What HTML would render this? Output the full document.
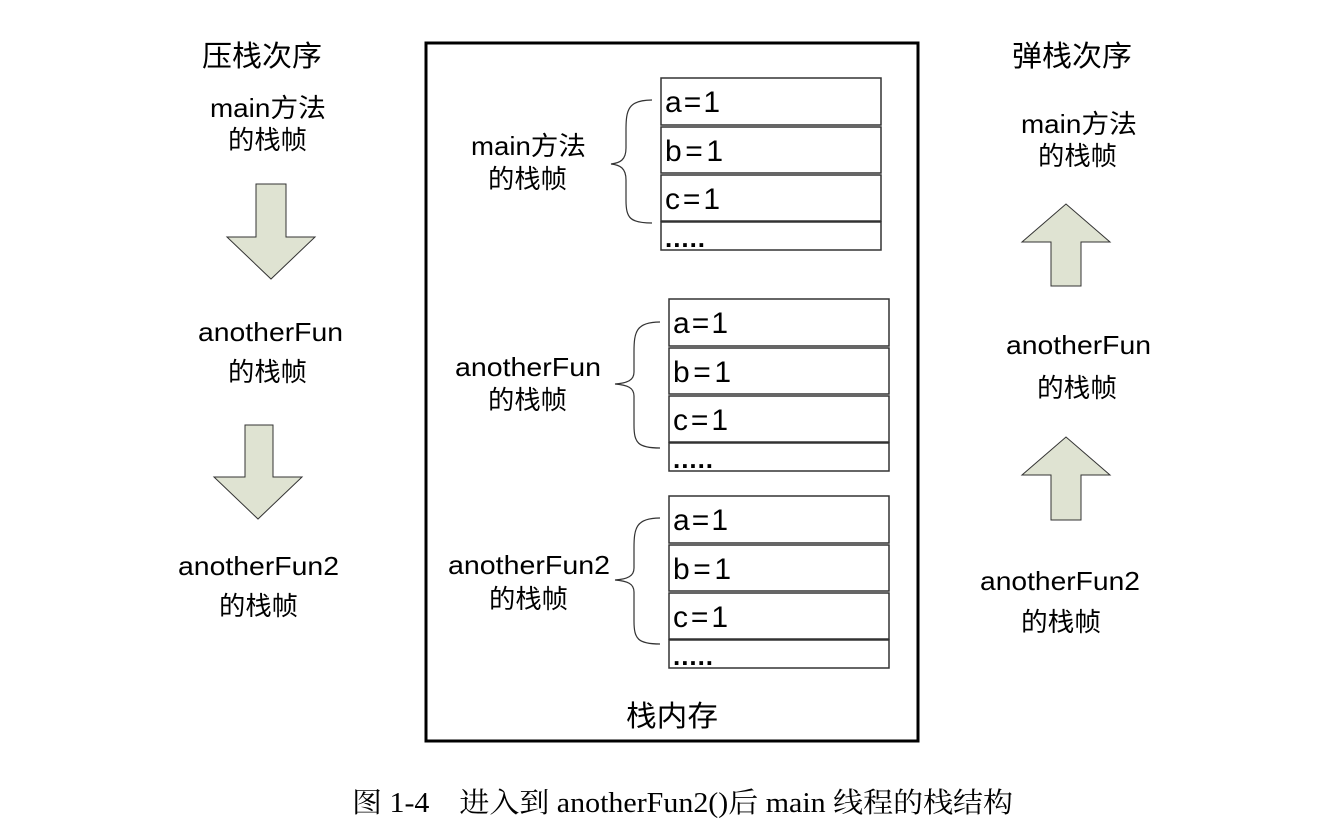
<!DOCTYPE html>
<html><head><meta charset="utf-8"><style>
html,body{margin:0;padding:0;background:#fff;}
svg{display:block;}
.s{font-family:"Liberation Sans","Noto Sans CJK SC",sans-serif;fill:#000;}
</style></head><body>
<svg width="1331" height="830" viewBox="0 0 1331 830" xmlns="http://www.w3.org/2000/svg">
<g class="s" lengthAdjust="spacingAndGlyphs">
<text x="202" y="66" font-size="29" textLength="120" lengthAdjust="spacingAndGlyphs">压栈次序</text>
<text x="210" y="117" font-size="26" textLength="116" lengthAdjust="spacingAndGlyphs">main方法</text>
<text x="228" y="149" font-size="26" textLength="79" lengthAdjust="spacingAndGlyphs">的栈帧</text>
<text x="198" y="341" font-size="26" textLength="145" lengthAdjust="spacingAndGlyphs">anotherFun</text>
<text x="228" y="381" font-size="26" textLength="79" lengthAdjust="spacingAndGlyphs">的栈帧</text>
<text x="178" y="575" font-size="26" textLength="161" lengthAdjust="spacingAndGlyphs">anotherFun2</text>
<text x="219" y="615" font-size="26" textLength="79" lengthAdjust="spacingAndGlyphs">的栈帧</text>

<text x="1012" y="66" font-size="29" textLength="120" lengthAdjust="spacingAndGlyphs">弹栈次序</text>
<text x="1021" y="133" font-size="26" textLength="116" lengthAdjust="spacingAndGlyphs">main方法</text>
<text x="1038" y="165" font-size="26" textLength="79" lengthAdjust="spacingAndGlyphs">的栈帧</text>
<text x="1006" y="354" font-size="26" textLength="145" lengthAdjust="spacingAndGlyphs">anotherFun</text>
<text x="1037" y="397" font-size="26" textLength="80" lengthAdjust="spacingAndGlyphs">的栈帧</text>
<text x="980" y="590" font-size="26" textLength="160" lengthAdjust="spacingAndGlyphs">anotherFun2</text>
<text x="1021" y="631" font-size="26" textLength="80" lengthAdjust="spacingAndGlyphs">的栈帧</text>

<text x="471" y="155" font-size="26" textLength="115" lengthAdjust="spacingAndGlyphs">main方法</text>
<text x="488" y="188" font-size="26" textLength="79" lengthAdjust="spacingAndGlyphs">的栈帧</text>
<text x="455" y="376" font-size="26" textLength="146" lengthAdjust="spacingAndGlyphs">anotherFun</text>
<text x="488" y="409" font-size="26" textLength="79" lengthAdjust="spacingAndGlyphs">的栈帧</text>
<text x="448" y="574" font-size="26" textLength="162" lengthAdjust="spacingAndGlyphs">anotherFun2</text>
<text x="489" y="608" font-size="26" textLength="79" lengthAdjust="spacingAndGlyphs">的栈帧</text>
<text x="626" y="726" font-size="29" textLength="92" lengthAdjust="spacingAndGlyphs">栈内存</text>
</g>
<text x="352" y="812" font-size="28" textLength="661" lengthAdjust="spacingAndGlyphs" font-family="'Liberation Serif','Noto Serif CJK SC',serif">图 1-4　进入到 anotherFun2()后 main 线程的栈结构</text>

<rect x="426" y="43" width="492" height="698" fill="none" stroke="#000" stroke-width="3"/>

<g fill="#dfe3d2" stroke="#333" stroke-width="1">
<polygon points="256,184 286,184 286,237 315,237 271,279 227,237 256,237"/>
<polygon points="245,425 273,425 273,477 302,477 258,519 214,477 245,477"/>
<polygon points="1051,286 1081,286 1081,242 1110,242 1066,204 1022,242 1051,242"/>
<polygon points="1051,520 1081,520 1081,475 1110,475 1066,437 1022,475 1051,475"/>
</g>

<g fill="none" stroke="#333" stroke-width="1.2">
<path d="M652,100 C628,100 626,110 626,130 L626,148 C626,160 620,163 611,164 C620,165 626,168 626,180 L626,200 C626,218 630,223 652,223"/>
<path d="M660,322 C636,322 634,332 634,352 L634,372 C634,380 628,383 615,384 C628,385 634,388 634,396 L634,425 C634,443 638,448 660,448"/>
<path d="M660,518 C636,518 634,528 634,548 L634,568 C634,576 628,579 615,580 C628,581 634,584 634,592 L634,621 C634,639 638,644 660,644"/>
</g>

<g fill="#fff" stroke="#333" stroke-width="1.5">
<rect x="661" y="78" width="220" height="47"/><rect x="661" y="127" width="220" height="46"/><rect x="661" y="175" width="220" height="46"/><rect x="661" y="222" width="220" height="28"/>
<rect x="669" y="299" width="220" height="47"/><rect x="669" y="348" width="220" height="46"/><rect x="669" y="396" width="220" height="46"/><rect x="669" y="443" width="220" height="28"/>
<rect x="669" y="496" width="220" height="47"/><rect x="669" y="545" width="220" height="46"/><rect x="669" y="593" width="220" height="46"/><rect x="669" y="640" width="220" height="28"/>
</g>
<g class="s" font-size="30">
<text x="665" y="112" textLength="55" lengthAdjust="spacing">a=1</text><text x="665" y="161" textLength="58" lengthAdjust="spacing">b=1</text><text x="665" y="209" textLength="55" lengthAdjust="spacing">c=1</text><text x="665" y="247" font-size="26" font-weight="bold" textLength="40" lengthAdjust="spacing">.....</text>
<text x="673" y="333" textLength="55" lengthAdjust="spacing">a=1</text><text x="673" y="382" textLength="58" lengthAdjust="spacing">b=1</text><text x="673" y="430" textLength="55" lengthAdjust="spacing">c=1</text><text x="673" y="468" font-size="26" font-weight="bold" textLength="40" lengthAdjust="spacing">.....</text>
<text x="673" y="530" textLength="55" lengthAdjust="spacing">a=1</text><text x="673" y="579" textLength="58" lengthAdjust="spacing">b=1</text><text x="673" y="627" textLength="55" lengthAdjust="spacing">c=1</text><text x="673" y="665" font-size="26" font-weight="bold" textLength="40" lengthAdjust="spacing">.....</text>
</g>
</svg>
</body></html>
